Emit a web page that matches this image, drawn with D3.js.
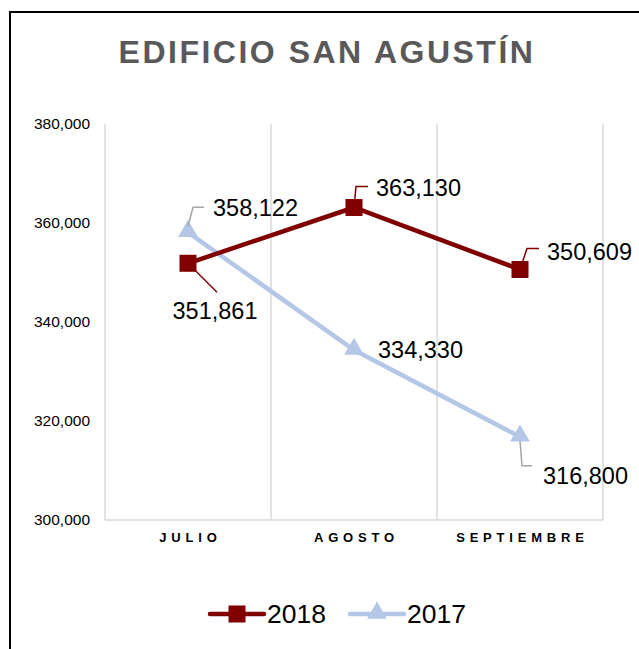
<!DOCTYPE html>
<html>
<head>
<meta charset="utf-8">
<script src="https://cdn.jsdelivr.net/npm/d3@7"></script>
<style>
  body { margin: 0; background: #fff; }
  text { font-family: "Liberation Sans", Arial, sans-serif; }
</style>
</head>
<body>
<div id="chart"></div>
<script>
// chart data
const months = ["JULIO", "AGOSTO", "SEPTIEMBRE"];
const values2018 = [351861, 363130, 350609];
const values2017 = [358122, 334330, 316800];
const yTicks = [300000, 320000, 340000, 360000, 380000];
const seriesNames = ["2018", "2017"];

const colors = {"2018": "#800000", "2017": "#b4c7e7"};
const leaderColors = {"2018": "#7f0000", "2017": "#a6a6a6"};

const canvas = {width: 639, height: 649};
const margin = {top: 124, right: 36, bottom: 129, left: 105};
const width = canvas.width - margin.left - margin.right;
const height = canvas.height - margin.top - margin.bottom;

const svg = d3.select("#chart")
    .append("svg")
    .attr("width", canvas.width)
    .attr("height", canvas.height);

// outer border
svg.append("rect")
    .attr("x", 10).attr("y", 12)
    .attr("width", 700).attr("height", 700)
    .attr("fill", "none")
    .attr("stroke", "#000")
    .attr("stroke-width", 2);

// title
svg.append("text")
    .attr("x", 327)
    .attr("y", 63)
    .attr("text-anchor", "middle")
    .attr("font-size", 32)
    .attr("font-weight", "bold")
    .attr("letter-spacing", 2.5)
    .attr("fill", "#595959")
    .text("EDIFICIO SAN AGUSTÍN");

const g = svg.append("g")
    .attr("transform", "translate(" + margin.left + "," + margin.top + ")");

const xScale = d3.scaleBand()
    .domain(months)
    .range([0, width]);

const yScale = d3.scaleLinear()
    .domain([300000, 380000])
    .range([height, 0]);

// vertical gridlines at band edges
const edges = months.map(m => xScale(m)).concat([width]);
g.selectAll("line.grid")
    .data(edges)
    .enter()
    .append("line")
    .attr("class", "grid")
    .attr("x1", d => d).attr("x2", d => d)
    .attr("y1", 0).attr("y2", height)
    .attr("stroke", "#d9d9d9")
    .attr("stroke-width", 1.5);

// bottom axis line
g.append("line")
    .attr("x1", 0).attr("x2", width)
    .attr("y1", height).attr("y2", height)
    .attr("stroke", "#d9d9d9")
    .attr("stroke-width", 1.5);

// y axis labels
const yAxis = d3.axisLeft(yScale)
    .tickValues(yTicks)
    .tickFormat(d3.format(","))
    .tickSize(0)
    .tickPadding(15);
g.append("g")
    .attr("class", "y-axis")
    .call(yAxis)
    .call(a => a.select(".domain").remove())
    .selectAll("text")
    .attr("font-size", 15.5)
    .attr("font-family", "Liberation Sans, Arial, sans-serif")
    .attr("fill", "#000");

// x axis labels
const xAxis = d3.axisBottom(xScale)
    .tickSize(0)
    .tickPadding(13);
g.append("g")
    .attr("class", "x-axis")
    .attr("transform", "translate(0," + height + ")")
    .call(xAxis)
    .call(a => a.select(".domain").remove())
    .selectAll("text")
    .attr("font-size", 13)
    .attr("font-weight", "bold")
    .attr("letter-spacing", 4.8)
    .attr("dx", 2.4)
    .attr("font-family", "Liberation Sans, Arial, sans-serif")
    .attr("fill", "#000");

const cx = m => xScale(m) + xScale.bandwidth() / 2;

const line = d3.line()
    .x((d, i) => cx(months[i]))
    .y(d => yScale(d));

// series lines
g.append("path")
    .datum(values2017)
    .attr("d", line)
    .attr("fill", "none")
    .attr("stroke", colors["2017"])
    .attr("stroke-width", 4.5);

g.append("path")
    .datum(values2018)
    .attr("d", line)
    .attr("fill", "none")
    .attr("stroke", colors["2018"])
    .attr("stroke-width", 4.5);

// markers
const tri = d3.symbol().type(d3.symbolTriangle).size(170);
g.selectAll("path.tri")
    .data(values2017)
    .enter()
    .append("path")
    .attr("class", "tri")
    .attr("d", tri)
    .attr("transform", (d, i) => "translate(" + cx(months[i]) + "," + (yScale(d) - 1) + ")")
    .attr("fill", colors["2017"]);

g.selectAll("rect.sq")
    .data(values2018)
    .enter()
    .append("rect")
    .attr("class", "sq")
    .attr("x", (d, i) => cx(months[i]) - 8.5)
    .attr("y", d => yScale(d) - 8.5)
    .attr("width", 17).attr("height", 17)
    .attr("fill", colors["2018"]);

// data labels with leader lines: offsets relative to the point
const labels2018 = [
    {dx: 27, dy: 47, anchor: "middle", leader: [[0, 0], [29, 29]]},
    {dx: 22, dy: -20, anchor: "start", leader: [[0, 0], [2, -21], [14, -21]]},
    {dx: 27, dy: -18, anchor: "start", leader: [[0, 0], [7, -21], [19, -21]]}
];
const labels2017 = [
    {dx: 25, dy: -25, anchor: "start", leader: [[0, -6], [5, -25], [16, -25]]},
    {dx: 24, dy: 0, anchor: "start", leader: null},
    {dx: 23, dy: 39, anchor: "start", leader: [[0, 4], [2, 29], [12, 29]]}
];

function drawLabels(values, specs, name) {
    values.forEach((v, i) => {
        const px = cx(months[i]), py = yScale(v);
        const s = specs[i];
        if (s.leader) {
            g.append("path")
                .attr("d", d3.line()(s.leader.map(p => [px + p[0], py + p[1]])))
                .attr("fill", "none")
                .attr("stroke", leaderColors[name])
                .attr("stroke-width", 1.5);
        }
        g.append("text")
            .attr("x", px + s.dx)
            .attr("y", py + s.dy)
            .attr("dy", "0.35em")
            .attr("text-anchor", s.anchor)
            .attr("font-size", 23.5)
            .attr("fill", "#000")
            .text(d3.format(",")(v));
    });
}
drawLabels(values2018, labels2018, "2018");
drawLabels(values2017, labels2017, "2017");

// legend
const legend = svg.append("g")
    .attr("transform", "translate(210,614)");

const legendItems = [
    {name: seriesNames[0], x: 0, marker: "square"},
    {name: seriesNames[1], x: 140, marker: "triangle"}
];
legendItems.forEach(item => {
    const lg = legend.append("g").attr("transform", "translate(" + item.x + ",0)");
    lg.append("line")
        .attr("x1", 0).attr("x2", 54)
        .attr("y1", 0).attr("y2", 0)
        .attr("stroke", colors[item.name])
        .attr("stroke-width", 4.5)
        .attr("stroke-linecap", "round");
    if (item.marker === "square") {
        lg.append("rect")
            .attr("x", 27 - 8.5).attr("y", -8.5)
            .attr("width", 17).attr("height", 17)
            .attr("fill", colors[item.name]);
    } else {
        lg.append("path")
            .attr("d", tri)
            .attr("transform", "translate(27,-1)")
            .attr("fill", colors[item.name]);
    }
    lg.append("text")
        .attr("x", 57)
        .attr("y", 0)
        .attr("dy", "0.35em")
        .attr("font-size", 26.5)
        .attr("fill", "#000")
        .text(item.name);
});
</script>
</body>
</html>
